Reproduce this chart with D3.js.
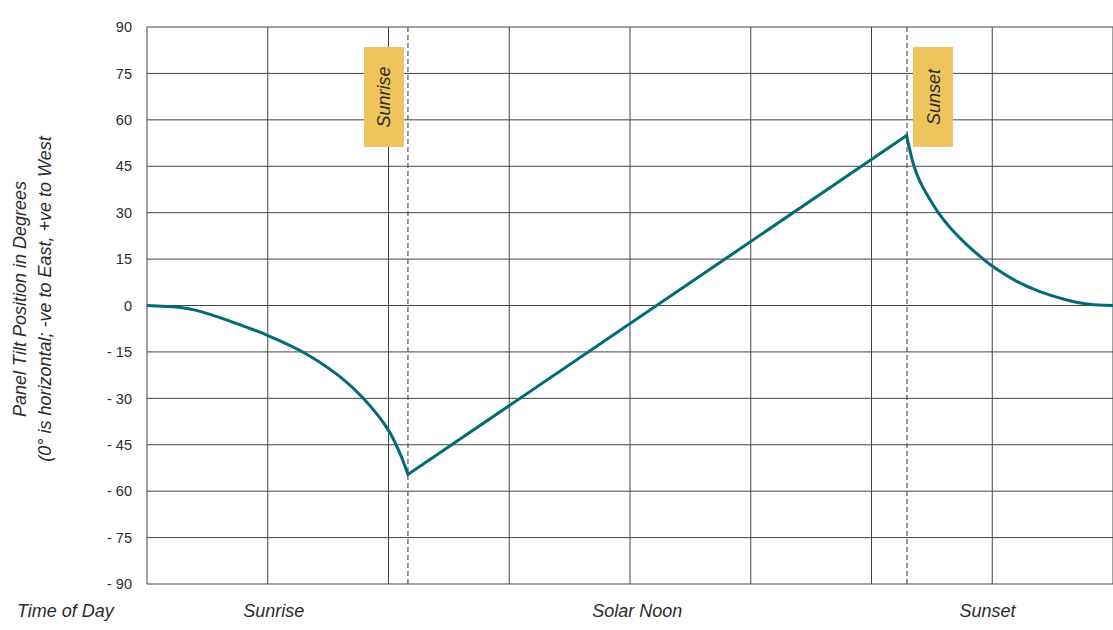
<!DOCTYPE html>
<html>
<head>
<meta charset="utf-8">
<script src="https://cdn.jsdelivr.net/npm/d3@7/dist/d3.min.js"></script>
<style>
  html, body { margin: 0; padding: 0; background: #fff; }
  svg { display: block; font-family: "Liberation Sans", Arial, sans-serif; }
</style>
</head>
<body>
<svg id="chart" width="1113" height="630"></svg>
<script>
// ---- data ----
const yTicks = [90, 75, 60, 45, 30, 15, 0, -15, -30, -45, -60, -75, -90];
const xGrid = [0, 1, 2, 3, 4, 5, 6, 7, 8];
const xLabels = ["Sunrise", "Solar Noon", "Sunset"];
const xLabelPos = [1.05, 4.06, 6.96];
const sunriseX = 2.161;
const sunsetX = 6.294;
const eventLabels = ["Sunrise", "Sunset"];
// morning backtracking curve
const morningX = [0, 0.26, 0.40, 0.54, 0.67, 0.81, 0.99, 1.294, 1.598, 1.791, 1.998, 2.095, 2.161];
const morningY = [0, -0.6, -1.5, -3.1, -4.8, -6.8, -9.5, -15.1, -23, -30, -40.2, -47.8, -54.6];
// daytime tracking line
const trackX = [2.161, 6.291];
const trackY = [-54.6, 54.9];
// evening backtracking curve
const eveningX = [6.291, 6.352, 6.402, 6.457, 6.553, 6.650, 6.788, 6.926, 7.009, 7.203, 7.395, 7.617, 7.782, 7.948, 8];
const eveningY = [54.9, 45, 40, 36, 30, 25.2, 19.7, 15, 12.5, 7.8, 4.5, 1.8, 0.5, 0.05, 0];

const yTitle1 = "Panel Tilt Position in Degrees";
const yTitle2 = "(0° is horizontal; -ve to East, +ve to West";
const xTitle = "Time of Day";

// ---- layout ----
const svg = d3.select("#chart");
const mLeft = 147, mRight = 1113, mTop = 27, mBottom = 584;
const x = d3.scaleLinear().domain([0, 8]).range([mLeft, mRight]);
const y = d3.scaleLinear().domain([-90, 90]).range([mBottom, mTop]);
const gridColor = "#444";
const textColor = "#2b2b2b";

// horizontal grid
svg.append("g").selectAll("line").data(yTicks).join("line")
  .attr("x1", mLeft).attr("x2", mRight)
  .attr("y1", d => y(d)).attr("y2", d => y(d))
  .attr("stroke", gridColor).attr("stroke-width", 1);

// vertical grid
svg.append("g").selectAll("line").data(xGrid).join("line")
  .attr("x1", d => x(d)).attr("x2", d => x(d))
  .attr("y1", mTop).attr("y2", mBottom)
  .attr("stroke", gridColor).attr("stroke-width", 1);

// y tick labels
svg.append("g").selectAll("text").data(yTicks).join("text")
  .attr("x", 132).attr("y", d => y(d)).attr("dy", "0.36em")
  .attr("text-anchor", "end")
  .attr("font-size", 14.5).attr("fill", textColor)
  .text(d => d < 0 ? "- " + Math.abs(d) : String(d));

// x category labels
svg.append("g").selectAll("text").data(xLabels).join("text")
  .attr("x", (d, i) => x(xLabelPos[i])).attr("y", 617)
  .attr("text-anchor", "middle")
  .attr("font-size", 18).attr("font-style", "italic").attr("fill", textColor)
  .text(d => d);

svg.append("text").attr("x", 17).attr("y", 617)
  .attr("font-size", 18).attr("font-style", "italic").attr("fill", textColor)
  .text(xTitle);

// y title (two lines)
const ty = 299;
svg.append("text").attr("transform", `translate(26,${ty}) rotate(-90)`)
  .attr("text-anchor", "middle").attr("font-size", 18).attr("font-style", "italic")
  .attr("fill", textColor).text(yTitle1);
svg.append("text").attr("transform", `translate(51,${ty}) rotate(-90)`)
  .attr("text-anchor", "middle").attr("font-size", 18).attr("font-style", "italic")
  .attr("fill", textColor).text(yTitle2);

// dashed event lines
svg.append("g").selectAll("line").data([sunriseX, sunsetX]).join("line")
  .attr("x1", d => x(d)).attr("x2", d => x(d))
  .attr("y1", mTop).attr("y2", mBottom)
  .attr("stroke", "#555").attr("stroke-width", 1.2)
  .attr("stroke-dasharray", "5,3");

// event label boxes
const boxW = 40, boxH = 100, boxTop = 47;
const boxX = [x(sunriseX) - 4 - boxW, x(sunsetX) + 6];
const eg = svg.append("g").selectAll("g").data(eventLabels).join("g");
eg.append("rect")
  .attr("x", (d, i) => boxX[i]).attr("y", boxTop)
  .attr("width", boxW).attr("height", boxH)
  .attr("fill", "#EDC55C");
eg.append("text")
  .attr("transform", (d, i) => `translate(${boxX[i] + boxW / 2 + 6.5},${boxTop + boxH / 2}) rotate(-90)`)
  .attr("text-anchor", "middle")
  .attr("font-size", 18).attr("font-style", "italic").attr("fill", textColor)
  .text(d => d);

// tilt curve
const lineCurve = d3.line().x(d => x(d[0])).y(d => y(d[1])).curve(d3.curveCatmullRom.alpha(0.5));
const lineLin = d3.line().x(d => x(d[0])).y(d => y(d[1]));
const p1 = lineCurve(morningX.map((v, i) => [v, morningY[i]]));
const p2 = lineLin(trackX.map((v, i) => [v, trackY[i]]));
const p3 = lineCurve(eveningX.map((v, i) => [v, eveningY[i]]));
const dPath = p1 + p2.replace(/^M/, "L") + p3.replace(/^M/, "L");
svg.append("path").attr("d", dPath)
  .attr("fill", "none").attr("stroke", "#036A79")
  .attr("stroke-width", 3).attr("stroke-linejoin", "miter");
</script>
</body>
</html>
